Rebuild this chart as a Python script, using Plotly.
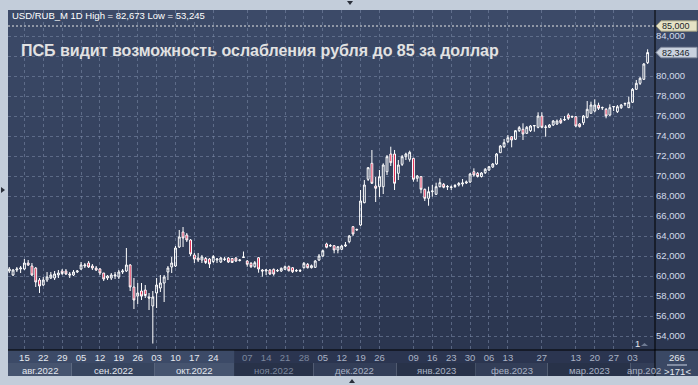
import plotly.graph_objects as go
import pandas as pd

# ---------------- data ----------------
holidays = ["2022-11-04", "2023-01-02", "2023-02-23", "2023-03-08"]
dates = [d for d in pd.bdate_range("2022-08-09", "2023-04-07")
         if d.strftime("%Y-%m-%d") not in holidays]

open_ = [60.5, 60.1, 60.6, 60.7, 60.7, 61.3, 61.0, 60.8, 59.6, 59.1,
         59.6, 59.8, 59.8, 60.1, 60.5, 60.5, 60.2, 60.1, 60.4, 60.7,
         61.0, 61.3, 61.0, 60.8, 60.7, 60.3, 59.8, 59.8, 60.0, 59.9,
         60.4, 60.5, 61.1, 58.9, 58.0, 58.5, 58.6, 57.9, 57.0, 58.3,
         58.8, 59.3, 60.4, 60.9, 61.0, 62.9, 64.4, 64.1, 63.6, 62.1,
         61.8, 61.6, 61.75, 61.7, 61.45, 61.6, 61.4, 61.65, 61.8, 61.75,
         61.8, 61.55, 61.85, 61.5, 61.27, 60.93, 61.83, 60.6, 60.5, 60.6,
         60.67, 60.5, 60.5, 60.67, 60.93, 60.83, 60.5, 60.55, 60.83, 61.17,
         60.83, 60.87, 61.6, 62.0, 63.2, 63.0, 63.03, 62.6, 62.67, 63.0,
         63.43, 64.93, 64.6, 65.1, 67.33, 69.67, 71.27, 69.0, 68.93, 68.93,
         70.43, 72.2, 72.2, 70.27, 71.17, 71.93, 71.67, 71.77, 69.77, 69.93,
         68.67, 67.77, 68.43, 68.17, 68.93, 69.17, 68.9, 68.85, 68.95, 69.1,
         69.2, 69.3, 69.4, 70.43, 70.27, 69.95, 70.33, 70.6, 70.9, 71.2,
         72.33, 72.93, 73.43, 73.93, 73.67, 74.53, 74.67, 74.27, 74.53, 75.0,
         74.87, 76.0, 74.85, 74.87, 75.1, 75.2, 75.6, 75.6, 76.1, 75.9,
         75.93, 75.2, 75.33, 75.87, 76.27, 76.5, 77.07, 76.8, 76.67, 76.1,
         76.9, 76.43, 76.83, 77.2, 76.83, 77.37, 78.67, 79.27, 79.67, 81.33]
high = [60.9, 60.7, 60.9, 61.0, 61.7, 61.6, 61.3, 60.9, 59.8, 59.9,
        60.4, 60.4, 60.5, 60.6, 60.7, 60.7, 60.4, 60.6, 60.6, 61.4,
        61.3, 61.5, 61.2, 61.0, 60.8, 60.3, 60.1, 60.3, 60.4, 60.6,
        60.7, 62.8, 61.2, 59.8, 59.3, 59.3, 59.1, 58.3, 58.5, 59.8,
        60.1, 60.1, 61.0, 61.9, 63.0, 64.6, 64.9, 64.3, 63.7, 62.3,
        62.3, 62.1, 61.9, 61.8, 62.1, 61.8, 61.9, 61.9, 61.9, 61.8,
        61.9, 61.7, 62.45, 61.6, 61.4, 61.5, 61.9, 60.7, 60.7, 60.7,
        60.75, 60.7, 60.85, 61.05, 61.05, 60.9, 60.7, 60.7, 61.4, 61.3,
        61.15, 61.6, 62.2, 62.65, 63.33, 63.2, 63.1, 63.0, 63.1, 63.4,
        64.1, 65.0, 64.75, 68.6, 69.6, 70.9, 72.6, 69.9, 70.6, 71.27,
        72.1, 72.93, 72.6, 71.6, 72.1, 72.33, 72.53, 71.83, 70.1, 70.0,
        68.75, 68.93, 69.1, 69.33, 69.77, 69.3, 69.1, 69.05, 69.2, 69.4,
        69.7, 69.55, 70.3, 70.77, 70.4, 70.4, 70.8, 71.0, 71.3, 72.3,
        73.1, 73.7, 74.1, 74.0, 74.6, 75.0, 75.27, 75.0, 75.1, 75.1,
        76.37, 76.37, 75.1, 75.2, 75.6, 75.65, 75.8, 76.0, 76.27, 76.05,
        76.0, 75.3, 76.1, 77.5, 77.43, 77.67, 77.33, 76.95, 76.8, 77.17,
        77.0, 77.1, 77.2, 77.35, 77.93, 78.8, 79.6, 79.9, 81.3, 82.673]
low = [60.3, 60.0, 60.4, 60.3, 60.6, 61.0, 60.0, 58.9, 58.3, 59.0,
       59.4, 59.7, 59.6, 59.8, 60.1, 60.1, 59.8, 60.0, 60.3, 60.6,
       60.8, 60.8, 60.6, 60.5, 60.1, 59.5, 59.6, 59.6, 59.7, 59.7,
       60.2, 60.4, 58.5, 56.7, 57.2, 57.6, 57.8, 56.6, 53.245, 56.8,
       58.4, 57.4, 59.6, 60.3, 60.9, 62.8, 62.9, 63.4, 62.0, 61.3,
       61.4, 61.3, 61.2, 60.8, 61.3, 61.3, 61.3, 61.5, 61.3, 61.3,
       61.4, 61.45, 61.8, 60.93, 60.8, 60.83, 60.33, 59.93, 60.1, 60.1,
       60.03, 60.4, 60.4, 60.6, 60.45, 60.3, 60.4, 60.4, 60.75, 60.75,
       60.75, 60.8, 61.5, 61.9, 62.77, 62.9, 62.27, 62.27, 62.6, 62.9,
       63.27, 64.0, 64.5, 65.0, 67.27, 69.5, 69.2, 67.4, 67.9, 68.2,
       70.1, 71.0, 68.6, 69.6, 71.0, 71.6, 71.43, 69.43, 69.43, 68.27,
       67.5, 67.03, 67.93, 68.1, 68.87, 68.77, 68.6, 68.6, 68.8, 68.95,
       68.95, 69.2, 69.3, 69.93, 69.85, 69.85, 70.2, 70.5, 70.8, 71.1,
       72.3, 72.8, 73.3, 72.87, 73.6, 74.4, 73.6, 74.2, 74.4, 74.43,
       74.77, 74.77, 73.93, 74.8, 75.0, 75.1, 75.2, 75.5, 75.6, 75.8,
       74.87, 74.85, 75.1, 75.77, 76.27, 76.37, 76.6, 76.6, 75.77, 76.0,
       76.5, 76.3, 76.7, 77.0, 76.8, 77.3, 78.6, 79.1, 79.6, 81.2]
close = [60.7, 60.6, 60.7, 60.8, 61.3, 61.1, 60.1, 59.4, 59.0, 59.6,
         59.9, 60.1, 60.2, 60.3, 60.25, 60.2, 60.1, 60.4, 60.5, 61.1,
         61.1, 60.9, 60.8, 60.6, 60.3, 59.7, 60.0, 60.1, 60.1, 60.4,
         60.5, 61.1, 58.9, 57.6, 58.3, 58.0, 58.05, 57.8, 57.9, 59.1,
         59.3, 59.9, 60.8, 61.3, 62.8, 63.9, 63.8, 63.6, 62.2, 61.7,
         61.6, 61.9, 61.35, 61.2, 61.95, 61.7, 61.8, 61.7, 61.4, 61.35,
         61.5, 61.6, 61.9, 61.17, 60.93, 61.33, 60.7, 60.5, 60.6, 60.2,
         60.2, 60.55, 60.77, 60.93, 60.53, 60.43, 60.55, 60.5, 61.27, 60.83,
         61.03, 61.5, 62.0, 62.53, 62.87, 63.05, 62.6, 62.93, 63.0, 63.1,
         64.0, 64.2, 64.65, 67.5, 69.1, 70.83, 69.27, 68.77, 69.93, 71.1,
         71.93, 71.33, 69.27, 71.1, 71.93, 72.2, 72.37, 69.67, 70.0, 68.67,
         67.77, 68.43, 68.5, 68.93, 69.33, 68.87, 68.95, 68.9, 69.05, 69.25,
         69.3, 69.4, 70.2, 70.1, 69.95, 70.3, 70.67, 70.93, 71.2, 72.2,
         73.0, 73.33, 73.83, 73.6, 74.53, 74.83, 74.2, 74.87, 75.0, 75.05,
         76.0, 74.87, 74.9, 75.1, 75.5, 75.5, 75.33, 75.65, 75.77, 75.95,
         75.0, 74.93, 76.0, 76.67, 77.1, 77.1, 76.77, 76.85, 76.0, 76.83,
         76.95, 76.93, 77.1, 77.25, 77.37, 78.67, 79.27, 79.77, 81.2, 82.346]

tick_dates = ["2022-08-15", "2022-08-22", "2022-08-29", "2022-09-05", "2022-09-12",
              "2022-09-19", "2022-09-26", "2022-10-03", "2022-10-10", "2022-10-17",
              "2022-10-24", "2022-11-07", "2022-11-14", "2022-11-21", "2022-11-28",
              "2022-12-05", "2022-12-12", "2022-12-19", "2022-12-26", "2023-01-09",
              "2023-01-16", "2023-01-23", "2023-01-30", "2023-02-06", "2023-02-13",
              "2023-02-27", "2023-03-13", "2023-03-20", "2023-03-27", "2023-04-03"]
month_names = {8: "авг.2022", 9: "сен.2022", 10: "окт.2022", 11: "ноя.2022", 12: "дек.2022",
               1: "янв.2023", 2: "фев.2023", 3: "мар.2023", 4: "апр.202"}
y_ticks = list(range(54, 85, 2))
level_line = 85.0
title_text = "ПСБ видит возможность ослабления рубля до 85 за доллар"
symbol = "USD/RUB_M 1D"

# ---------------- geometry helpers ----------------
W, H = 698, 385
ML, MR, MT, MB = 8, 43, 10, 35
PW, PH = W - ML - MR, H - MT - MB
XR = [-0.34, 170.95]
YR = [52.6, 86.6]

def px2paper_x(px):
    return (px - ML) / PW

def px2paper_y(py):
    return (H - MB - py) / PH

def idx2paper(i):
    return (i - XR[0]) / (XR[1] - XR[0])

def fmt(v):
    return f"{v:.3f}".replace(".", ",")

n = len(dates)
x = list(range(n))
date_str = [d.strftime("%Y-%m-%d") for d in dates]
tick_idx = [date_str.index(t) for t in tick_dates]

FONT = "Liberation Sans, Arial, sans-serif"

def day_color(d):
    m = int(d[5:7])
    if m in (8, 9, 10):
        return "#e4e8ef"
    if m == 11:
        return "#7c879d"
    return "#aab3c5"

tick_text = [f"<span style='color:{day_color(t)}'>{t[8:10]}</span>" for t in tick_dates]
# y labels: the current-price tag covers the label next to it
y_text = ["" if abs(v - close[-1]) < 0.8 else fmt(v) for v in y_ticks]

fig = go.Figure()
fig.add_trace(go.Candlestick(
    x=x, open=open_, high=high, low=low, close=close,
    increasing=dict(line=dict(color="#ffffff", width=1), fillcolor="rgba(0,0,0,0)"),
    decreasing=dict(line=dict(color="#ffffff", width=1), fillcolor="#e0103c"),
    whiskerwidth=0, hoverinfo="skip", showlegend=False,
))

shapes = []
# gradient background (plot + right axis)
top_c = (60, 74, 104)
bot_c = (43, 54, 80)
nb = 34
for k in range(nb):
    t = k / (nb - 1)
    c = tuple(int(round(top_c[j] + (bot_c[j] - top_c[j]) * t)) for j in range(3))
    shapes.append(dict(type="rect", xref="paper", yref="paper", layer="below",
                       x0=0, x1=px2paper_x(W), y0=1 - (k + 1) / nb, y1=1 - k / nb,
                       fillcolor=f"rgb{c}", line=dict(width=0)))

# bottom axis: row 1 (days) and row 2 (months)
row1 = (px2paper_y(350), px2paper_y(363))
row2 = (px2paper_y(363), px2paper_y(376))
first_nov = date_str.index("2022-11-01")
shapes.append(dict(type="rect", xref="paper", yref="paper", layer="below",
                   x0=0, x1=idx2paper(first_nov - 0.5), y0=row1[1], y1=row1[0],
                   fillcolor="#3c4a67", line=dict(width=0)))
shapes.append(dict(type="rect", xref="paper", yref="paper", layer="below",
                   x0=idx2paper(first_nov - 0.5), x1=1, y0=row1[1], y1=row1[0],
                   fillcolor="#2b3550", line=dict(width=0)))
months = []
for i, d in enumerate(dates):
    key = (d.year, d.month)
    if not months or months[-1][0] != key:
        months.append([key, i, i])
    else:
        months[-1][2] = i
band_cols = {8: "#46546f", 9: "#37455f", 10: "#46546f", 11: "#283249", 12: "#333e58",
             1: "#283249", 2: "#333e58", 3: "#283249", 4: "#333e58"}
annotations = []
for (yy, mm), i0, i1 in months:
    x0 = max(0, idx2paper(i0 - 0.5))
    x1 = min(1, idx2paper(i1 + 0.5 if mm != 4 else XR[1]))
    shapes.append(dict(type="rect", xref="paper", yref="paper", layer="below",
                       x0=x0, x1=x1, y0=row2[1], y1=row2[0],
                       fillcolor=band_cols[mm], line=dict(width=0)))
    col = "#e4e8ef" if mm in (8, 9, 10) else ("#7c879d" if mm == 11 else "#aab3c5")
    ym = px2paper_y(370)
    if mm == 4:
        annotations.append(dict(x=i0 - 2, y=ym, xref="x", yref="paper",
                                text=month_names[mm], showarrow=False,
                                xanchor="left", yanchor="middle",
                                font=dict(family=FONT, size=9.5, color=col)))
    else:
        annotations.append(dict(x=(i0 + i1) / 2, y=ym, xref="x", yref="paper",
                                text=month_names[mm], showarrow=False,
                                xanchor="center", yanchor="middle",
                                font=dict(family=FONT, size=9.5, color=col)))

# right-bottom corner box
shapes.append(dict(type="rect", xref="paper", yref="paper", layer="above",
                   x0=1, x1=px2paper_x(W), y0=px2paper_y(376), y1=0,
                   fillcolor="#3a4864", line=dict(width=0)))
shapes.append(dict(type="line", xref="paper", yref="paper", layer="above",
                   x0=px2paper_x(667), x1=px2paper_x(687), y0=px2paper_y(365), y1=px2paper_y(365),
                   line=dict(color="#c9d2e2", width=1)))
# black axis lines
shapes.append(dict(type="line", xref="paper", yref="paper", layer="above",
                   x0=0, x1=px2paper_x(W), y0=0, y1=0, line=dict(color="#000000", width=1)))
shapes.append(dict(type="line", xref="paper", yref="paper", layer="above",
                   x0=1, x1=1, y0=px2paper_y(376), y1=1, line=dict(color="#000000", width=1)))
# 85,000 dashed level line
shapes.append(dict(type="line", xref="paper", yref="y", layer="above",
                   x0=0, x1=1, y0=level_line, y1=level_line,
                   line=dict(color="#e6e6e6", width=1, dash="2px,2px")))

# price tags on the right axis
def tag(v, fill, border):
    xa, xb, xc = px2paper_x(656), px2paper_x(661), px2paper_x(697)
    h = 0.52
    path = f"M {xa},{v} L {xb},{v + h} L {xc},{v + h} L {xc},{v - h} L {xb},{v - h} Z"
    shapes.append(dict(type="path", xref="paper", yref="y", path=path, layer="above",
                       fillcolor=fill, line=dict(color=border, width=1)))
    annotations.append(dict(x=px2paper_x(676), y=v, xref="paper", yref="y", text=fmt(v),
                            showarrow=False, xanchor="center", yanchor="middle",
                            font=dict(family=FONT, size=9, color="#1b1f2a")))

tag(level_line, "#e6e3c5", "#9d9a7e")
tag(close[-1], "#c9d1de", "#8791a4")

# small frame markers
def tri(points, color="#2a2f3a"):
    p = "M " + " L ".join(f"{a},{b}" for a, b in points) + " Z"
    shapes.append(dict(type="path", xref="paper", yref="paper", path=p, layer="above",
                       fillcolor=color, line=dict(width=0)))

tri([(px2paper_x(1), px2paper_y(187)), (px2paper_x(5), px2paper_y(190)), (px2paper_x(1), px2paper_y(193))])
tri([(px2paper_x(347), px2paper_y(1)), (px2paper_x(353), px2paper_y(1)), (px2paper_x(350), px2paper_y(5))])
tri([(px2paper_x(349), px2paper_y(383)), (px2paper_x(355), px2paper_y(383)), (px2paper_x(352), px2paper_y(379))])
tri([(px2paper_x(641), px2paper_y(346)), (px2paper_x(648), px2paper_y(346)), (px2paper_x(644.5), px2paper_y(343))],
    color="#6f7b93")

# text annotations
def note(px, py, text, size=9.5, color="#e4e8ef", xanchor="center"):
    annotations.append(dict(x=px2paper_x(px), y=px2paper_y(py), xref="paper", yref="paper",
                            text=text, showarrow=False, xanchor=xanchor, yanchor="middle",
                            font=dict(family=FONT, size=size, color=color)))

note(10, 15.5, f"{symbol} High = {fmt(max(high))} Low = {fmt(min(low))}",
     color="#ffffff", xanchor="left")
note(19, 50, f"<b>{title_text}</b>", size=16, color="#e2e2e2", xanchor="left")
note(677, 357.5, "266")
note(677, 371, "&gt;171&lt;")
note(637, 343, "1")

grid_col = "rgba(125,140,170,0.55)"
fig.update_layout(
    width=W, height=H, autosize=False,
    margin=dict(l=ML, r=MR, t=MT, b=MB, pad=0),
    paper_bgcolor="#c3cdda", plot_bgcolor="rgba(0,0,0,0)",
    separators=", ",
    hovermode=False, showlegend=False,
    shapes=shapes, annotations=annotations,
    xaxis=dict(range=XR, rangeslider=dict(visible=False), tickmode="array",
               tickvals=tick_idx, ticktext=tick_text, showgrid=True,
               gridcolor=grid_col, griddash="3px,3px", gridwidth=1,
               zeroline=False, showline=False, ticks="",
               tickfont=dict(family=FONT, size=9.5, color="#e4e8ef")),
    yaxis=dict(range=YR, side="right", tickmode="array", tickvals=y_ticks,
               ticktext=y_text, showgrid=True, gridcolor=grid_col, griddash="3px,3px",
               gridwidth=1, zeroline=False, showline=False, ticks="",
               tickfont=dict(family=FONT, size=9.5, color="#d3dbea")),
)

fig.write_html("out.html")
